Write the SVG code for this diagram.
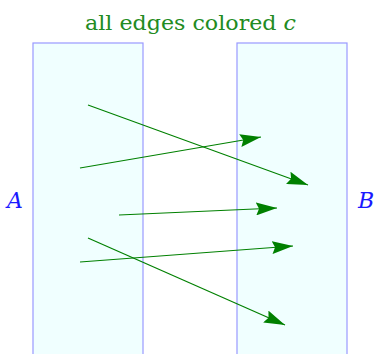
<svg xmlns="http://www.w3.org/2000/svg" width="375" height="354" viewBox="0 0 375 354">
<style>
.set{fill:#f0ffff;stroke:#9999ff;stroke-width:1.2}
.lbl{font-family:"DejaVu Serif","Liberation Serif",serif;font-style:italic;font-size:22px;fill:#1a1aff}
.title{font-family:"DejaVu Serif","Liberation Serif",serif;font-size:21px;fill:#228b22}
.e{stroke:#008000;stroke-width:1.2;fill:none;marker-end:url(#ah)}
</style>
<defs>
<marker id="ah" markerUnits="userSpaceOnUse" viewBox="0 0 21 13" markerWidth="21" markerHeight="13" refX="21" refY="6.5" orient="auto">
<path d="M0,0 L21,6.5 L0,13 L3,6.5 Z" fill="#008000"/>
</marker>
</defs>
<text class="title" x="85" y="30" textLength="211" lengthAdjust="spacingAndGlyphs">all edges colored <tspan font-style="italic">c</tspan></text>
<g id="A"><rect class="set" x="33" y="43" width="110" height="320"/><text class="lbl" x="15" y="208" text-anchor="middle">A</text></g>
<g id="B"><rect class="set" x="237" y="43" width="110" height="320"/><text class="lbl" x="366" y="208" text-anchor="middle">B</text></g>
<g id="edges">
<line class="e" x1="88" y1="105" x2="308" y2="185"/>
<line class="e" x1="80" y1="168" x2="261" y2="137"/>
<line class="e" x1="119" y1="215" x2="277" y2="208"/>
<line class="e" x1="80" y1="262" x2="293" y2="246"/>
<line class="e" x1="88" y1="238" x2="285" y2="325"/>
</g>
</svg>
